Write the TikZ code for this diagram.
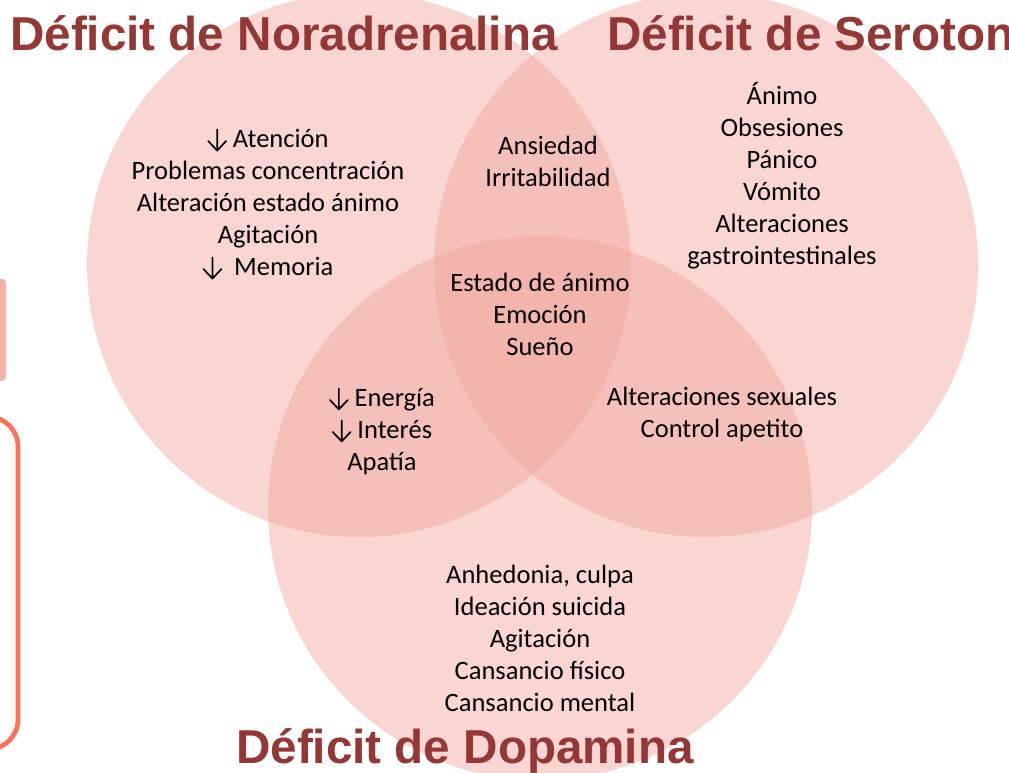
\documentclass[tikz,border=0pt]{standalone}
\usepackage{fontspec}
\setmainfont{Carlito}
\newfontfamily\titlefont{Liberation Sans}
\definecolor{vennfill}{RGB}{242,166,157}
\definecolor{titlered}{RGB}{149,55,53}
\definecolor{sidepink}{RGB}{244,178,170}
\definecolor{sideline}{RGB}{255,112,88}
\newcommand{\dn}{\tikz[baseline=0pt, x=1pt, y=1pt]{\draw[line width=1.3pt, line cap=round, line join=round] (7,13.5) -- (7,-2.3) (0.3,4.8) -- (7,-2.3) -- (13.7,4.8);}}
\tikzset{
  venn/.style={fill=vennfill, fill opacity=0.45, draw=none},
  body/.style={align=center, font=\fontsize{19.9pt}{24pt}\selectfont, text=black, inner sep=0pt},
  title/.style={anchor=base, font=\titlefont\bfseries\fontsize{35.7pt}{40pt}\selectfont, text=titlered, inner sep=0pt}
}
\begin{document}
\begin{tikzpicture}[x=0.75pt, y=-0.75pt]
\useasboundingbox (0,0) rectangle (1009,772);
\begin{scope}
\clip (0,0) rectangle (1009,772);
\fill[white] (0,0) rectangle (1009,772);
% side decorations
\fill[sidepink, rounded corners=3] (-20,279) rectangle (6,381);
\draw[sideline, line width=3.5pt, rounded corners=22] (-40,417) rectangle (18,749);
% circles
\fill[venn] (359,265) circle[radius=272];
\fill[venn] (706,265) circle[radius=272];
\fill[venn] (540,508) circle[radius=272];
\end{scope}
% titles
\node[title] (tnor) at (284,50) {Déficit de Noradrenalina};
\node[title, anchor=base west] (tser) at (607,50) {Déficit de Serotonina};
\node[title] (tdop) at (465,763) {Déficit de Dopamina};
% texts
\node[body] (nor) at (268,204) {\dn\ Atención\\Problemas concentración\\Alteración estado ánimo\\Agitación\\\dn\ \ Memoria};
\node[body] (ser) at (782,176) {Ánimo\\Obsesiones\\Pánico\\Vómito\\Alteraciones\\gastrointestinales};
\node[body] (ns) at (548,161) {Ansiedad\\Irritabilidad};
\node[body] (all) at (540,314) {Estado de ánimo\\Emoción\\Sueño};
\node[body] (nd) at (382,431) {\dn\ Energía\\\dn\ Interés\\Apatía};
\node[body] (sd) at (722,414) {Alteraciones sexuales\\Control apetito};
\node[body] (dop) at (540,638) {Anhedonia, culpa\\Ideación suicida\\Agitación\\Cansancio físico\\Cansancio mental};
\end{tikzpicture}
\end{document}
